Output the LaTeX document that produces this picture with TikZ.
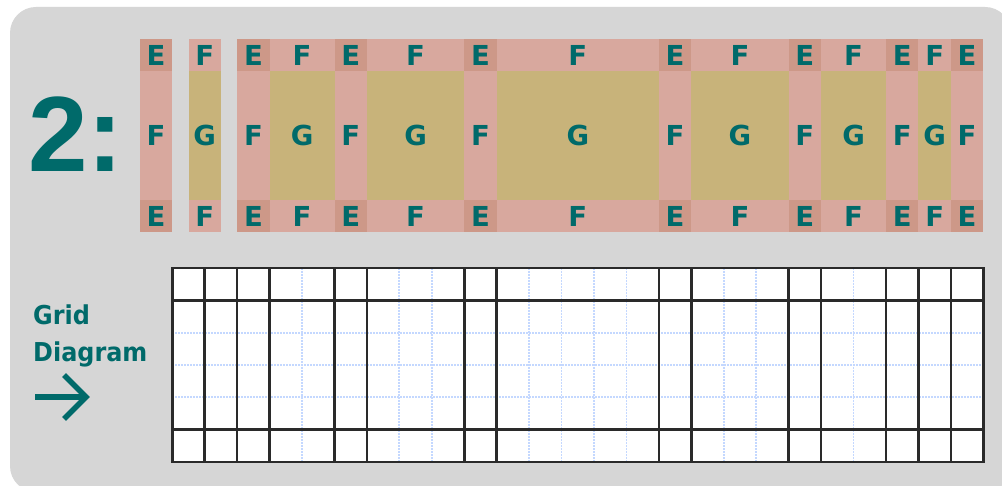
\documentclass[tikz,border=0pt]{standalone}
\usepackage{fontspec}
\setmainfont{DejaVu Sans}
\newfontfamily\numfont{Liberation Sans}
\newfontfamily\lblfont{DejaVu Sans}[FakeStretch=0.92]
\newfontfamily\cellfont{DejaVu Sans}
\definecolor{panelc}{HTML}{D6D6D6}
\definecolor{tealc}{HTML}{006A6A}
\definecolor{ecellc}{HTML}{CD9888}
\definecolor{fcellc}{HTML}{D8A89E}
\definecolor{gcellc}{HTML}{C8B37A}
\definecolor{heavyc}{HTML}{2A2A2A}
\definecolor{lightc}{HTML}{C4D8FF}
\tikzset{
  cell/.style={rectangle, draw=none, inner sep=0pt, outer sep=0pt, text=tealc,
    font=\cellfont\fontsize{27.5}{30}\bfseries\selectfont},
  ecell/.style={cell, fill=ecellc},
  fcell/.style={cell, fill=fcellc},
  gcell/.style={cell, fill=gcellc},
  heavyline/.style={draw=heavyc, line width=2.5pt, line cap=rect},
  lightline/.style={draw=lightc, line width=1.8pt, dash pattern=on 2pt off 1pt},
  lbl/.style={text=tealc, inner sep=0pt, font=\lblfont\fontsize{26}{30}\bfseries\selectfont}
}
\begin{document}
\begin{tikzpicture}[x=1pt,y=-1pt]
\useasboundingbox (0,0) rectangle (1002,486);
\clip (0,0) rectangle (1002,486);
\fill[white] (0,0) rectangle (1002,486);
\fill[panelc, rounded corners=26pt] (10,7) rectangle (1011,492);

% big label
\node[text=tealc, inner sep=0pt, anchor=base west, font=\numfont\fontsize{107}{110}\bfseries\selectfont] (num) at (28,172) {2:};

% top strips: columns given as left/right unit index and type
\foreach \a/\b/\t [count=\k] in {-1/0/E, 0.5/1.5/F, 2/3/E, 3/5/F, 5/6/E, 6/9/F, 9/10/E, 10/15/F, 15/16/E, 16/19/F, 19/20/E, 20/22/F, 22/23/E, 23/24/F, 24/25/E}{
  \pgfmathsetmacro\w{((\b)-(\a))*32.44}
  \pgfmathsetmacro\cx{172.3+32.44*((\a)+(\b))/2}
  \if\t E
    \node[ecell, minimum width=\w pt, minimum height=32.2pt] (top\k) at (\cx,55.4) {E};
    \node[fcell, minimum width=\w pt, minimum height=128.8pt] (mid\k) at (\cx,135.9) {F};
    \node[ecell, minimum width=\w pt, minimum height=32.2pt] (bot\k) at (\cx,216.4) {E};
  \else
    \node[fcell, minimum width=\w pt, minimum height=32.2pt] (top\k) at (\cx,55.4) {F};
    \node[gcell, minimum width=\w pt, minimum height=128.8pt] (mid\k) at (\cx,135.9) {G};
    \node[fcell, minimum width=\w pt, minimum height=32.2pt] (bot\k) at (\cx,216.4) {F};
  \fi
}

% grid diagram
\fill[white] (172.3,268) rectangle (983.3,462);
\foreach \i in {4,7,8,11,12,13,14,17,18,21}
  \draw[lightline] ({172.3+32.44*\i},268) -- ({172.3+32.44*\i},462);
\foreach \j in {2,3,4}
  \draw[lightline] (172.3,{268+32.33*\j}) -- (983.3,{268+32.33*\j});
\foreach \j in {0,1,5,6}
  \draw[heavyline] (172.3,{268+32.33*\j}) -- (983.3,{268+32.33*\j});
\foreach \i in {0,1,2,3,5,6,9,10,15,16,19,20,22,23,24,25}
  \draw[heavyline] ({172.3+32.44*\i},268) -- ({172.3+32.44*\i},462);

% side label and arrow
\node[lbl, anchor=base west] (grid) at (33,325) {Grid};
\node[lbl, anchor=base west] (diag) at (33,361.5) {Diagram};
\coordinate (arrS) at (35,397);
\coordinate (arrE) at (86,397);
\draw[tealc, line width=5.5pt] (arrS) -- (arrE);
\draw[tealc, line width=5.5pt, miter limit=10] (64,375) -- (arrE) -- (64,419);
\end{tikzpicture}
\end{document}
